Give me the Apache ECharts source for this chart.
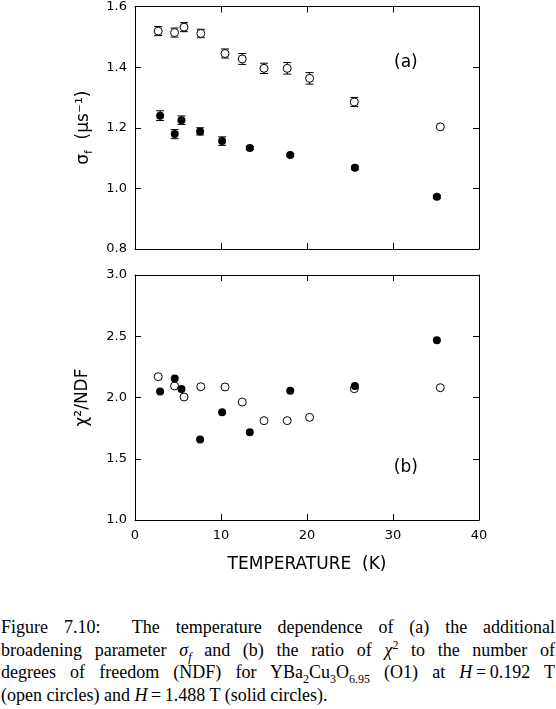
<!DOCTYPE html>
<html>
<head>
<meta charset="utf-8">
<script src="https://cdn.jsdelivr.net/npm/echarts@6/dist/echarts.min.js"></script>
<style>
  html, body { margin: 0; padding: 0; background: #fff; overflow: hidden; }
  #chart { position: absolute; left: 0; top: 0; width: 556px; height: 600px; }
  #caption {
    position: absolute; left: 1px; top: 616px; width: 554px;
    font-family: "Liberation Serif", "DejaVu Serif", serif;
    font-size: 18px; line-height: 22.5px; color: #000;
  }
  #caption div { text-align: justify; text-align-last: justify; white-space: nowrap; }
  #caption div.last { text-align-last: left; }
  #caption sub, #caption sup { font-size: 12px; line-height: 0; }
</style>
</head>
<body>
<div id="chart"></div>
<div id="caption">
  <div>Figure 7.10:&nbsp; The temperature dependence of (a) the additional</div>
  <div>broadening parameter <i>σ<sub>f</sub></i> and (b) the ratio of <i>χ</i><sup>2</sup> to the number of</div>
  <div>degrees of freedom (NDF) for YBa<sub>2</sub>Cu<sub>3</sub>O<sub>6.95</sub> (O1) at <i>H</i>&#8201;=&#8201;0.192 T</div>
  <div class="last">(open circles) and <i>H</i>&#8201;=&#8201;1.488 T (solid circles).</div>
</div>
<script>
// H = 0.192 T (open circles)
var tempOpen = [2.7, 4.6, 5.7, 7.65, 10.47, 12.47, 15.0, 17.7, 20.3, 25.5, 35.5];
var sigmaOpen = [1.519, 1.514, 1.532, 1.511, 1.445, 1.427, 1.396, 1.396, 1.363, 1.285, 1.203];
var sigmaOpenErr = [0.015, 0.015, 0.015, 0.014, 0.015, 0.018, 0.017, 0.019, 0.019, 0.015, 0.004];
var chiOpen = [2.170, 2.094, 2.004, 2.088, 2.086, 1.963, 1.811, 1.811, 1.838, 2.072, 2.080];

// H = 1.488 T (solid circles)
var tempSolid = [2.92, 4.62, 5.4, 7.57, 10.13, 13.35, 18.05, 25.57, 35.1];
var sigmaSolid = [1.240, 1.179, 1.225, 1.188, 1.156, 1.133, 1.110, 1.068, 0.972];
var sigmaSolidErr = [0.016, 0.015, 0.014, 0.012, 0.014, 0.005, 0.005, 0.005, 0.005];
var chiSolid = [2.048, 2.156, 2.069, 1.658, 1.879, 1.716, 2.056, 2.094, 2.467];

var xTicks = [0, 10, 20, 30, 40];
var sigmaTicks = [0.8, 1.0, 1.2, 1.4, 1.6];
var chiTicks = [1.0, 1.5, 2.0, 2.5, 3.0];

var FONT = 'DejaVu Sans';

function pairs(xs, ys, errs) {
  return xs.map(function (x, i) {
    return errs ? [x, ys[i], errs[i]] : [x, ys[i]];
  });
}

function errorBars(params, api) {
  var x = api.value(0), y = api.value(1), e = api.value(2);
  var lo = api.coord([x, y - e]);
  var hi = api.coord([x, y + e]);
  var w = 4;
  var st = { stroke: '#000', lineWidth: 1 };
  return {
    type: 'group',
    children: [
      { type: 'line', shape: { x1: lo[0], y1: lo[1], x2: hi[0], y2: hi[1] }, style: st },
      { type: 'line', shape: { x1: lo[0] - w, y1: lo[1], x2: lo[0] + w, y2: lo[1] }, style: st },
      { type: 'line', shape: { x1: hi[0] - w, y1: hi[1], x2: hi[0] + w, y2: hi[1] }, style: st }
    ]
  };
}

function xAx(grid, pos, labels) {
  return {
    type: 'value', gridIndex: grid, position: pos,
    min: xTicks[0], max: xTicks[xTicks.length - 1], interval: 10,
    axisLine: { show: true, onZero: false, lineStyle: { color: '#000', width: 1 } },
    axisTick: { show: true, inside: true, length: 6, lineStyle: { color: '#000' } },
    axisLabel: { show: labels, color: '#000', fontFamily: FONT, fontSize: 13, margin: 9 },
    splitLine: { show: false }
  };
}

function yAx(grid, pos, ticks, step, labels) {
  return {
    type: 'value', gridIndex: grid, position: pos,
    min: ticks[0], max: ticks[ticks.length - 1], interval: step,
    axisLine: { show: true, onZero: false, lineStyle: { color: '#000', width: 1 } },
    axisTick: { show: true, inside: true, length: 6, lineStyle: { color: '#000' } },
    axisLabel: {
      show: labels, color: '#000', fontFamily: FONT, fontSize: 13, margin: 8,
      formatter: function (v) { return v.toFixed(1); }
    },
    splitLine: { show: false }
  };
}

var openStyle = { color: '#fff', borderColor: '#000', borderWidth: 1, opacity: 1 };
var solidStyle = { color: '#000', opacity: 1 };

var yTop = yAx(0, 'left', sigmaTicks, 0.2, true);
yTop.name = '{s|σ}{sub|f}{s|  (μs⁻¹)}';
yTop.nameLocation = 'middle';
yTop.nameRotate = 90;
yTop.nameGap = 40;
yTop.nameTextStyle = {
  color: '#000', fontFamily: FONT, fontSize: 17,
  rich: {
    s: { fontFamily: FONT, fontSize: 17, color: '#000', lineHeight: 22, verticalAlign: 'middle' },
    sub: { fontFamily: FONT, fontSize: 11, color: '#000', lineHeight: 22, verticalAlign: 'bottom' }
  }
};

var yBot = yAx(1, 'left', chiTicks, 0.5, true);
yBot.name = 'χ²/NDF';
yBot.nameLocation = 'middle';
yBot.nameRotate = 90;
yBot.nameGap = 44;
yBot.nameTextStyle = { color: '#000', fontFamily: FONT, fontSize: 17 };

var xBot = xAx(1, 'bottom', true);
xBot.name = 'TEMPERATURE  (K)';
xBot.nameLocation = 'middle';
xBot.nameGap = 36;
xBot.nameTextStyle = { color: '#000', fontFamily: FONT, fontSize: 17 };

var chart = echarts.init(document.getElementById('chart'), null, { renderer: 'canvas' });

chart.setOption({
  animation: false,
  backgroundColor: '#fff',
  grid: [
    { left: 135, top: 6, width: 344, height: 243 },
    { left: 135, top: 275, width: 344, height: 245 }
  ],
  xAxis: [xAx(0, 'bottom', false), xAx(0, 'top', false), xBot, xAx(1, 'top', false)],
  yAxis: [yTop, yAx(0, 'right', sigmaTicks, 0.2, false), yBot, yAx(1, 'right', chiTicks, 0.5, false)],
  series: [
    { type: 'custom', xAxisIndex: 0, yAxisIndex: 0, renderItem: errorBars,
      data: pairs(tempOpen, sigmaOpen, sigmaOpenErr), z: 1 },
    { type: 'custom', xAxisIndex: 0, yAxisIndex: 0, renderItem: errorBars,
      data: pairs(tempSolid, sigmaSolid, sigmaSolidErr), z: 1 },
    { type: 'scatter', name: 'H = 0.192 T', xAxisIndex: 0, yAxisIndex: 0, symbol: 'circle',
      symbolSize: 8, itemStyle: openStyle, data: pairs(tempOpen, sigmaOpen), z: 2 },
    { type: 'scatter', name: 'H = 1.488 T', xAxisIndex: 0, yAxisIndex: 0, symbol: 'circle',
      symbolSize: 8, itemStyle: solidStyle, data: pairs(tempSolid, sigmaSolid), z: 3 },
    { type: 'scatter', name: 'H = 0.192 T', xAxisIndex: 2, yAxisIndex: 2, symbol: 'circle',
      symbolSize: 8, itemStyle: openStyle, data: pairs(tempOpen, chiOpen), z: 2 },
    { type: 'scatter', name: 'H = 1.488 T', xAxisIndex: 2, yAxisIndex: 2, symbol: 'circle',
      symbolSize: 8, itemStyle: solidStyle, data: pairs(tempSolid, chiSolid), z: 3 }
  ]
});

// panel labels, placed in data coordinates
var panelLabels = [
  { text: '(a)', grid: 0, at: [31.5, 1.416] },
  { text: '(b)', grid: 1, at: [31.5, 1.43] }
];
chart.setOption({
  graphic: panelLabels.map(function (p) {
    var px = chart.convertToPixel({ gridIndex: p.grid }, p.at);
    return {
      type: 'text', x: px[0], y: px[1],
      style: { text: p.text, fill: '#000', font: '17px "DejaVu Sans"', align: 'center', verticalAlign: 'middle' }
    };
  })
});
</script>
</body>
</html>
